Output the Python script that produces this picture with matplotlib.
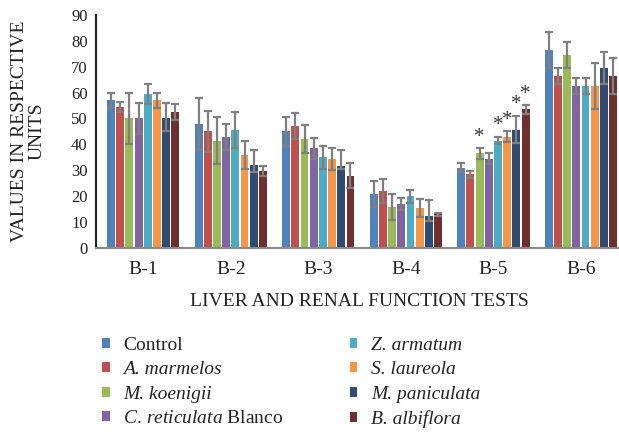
import matplotlib
matplotlib.use("Agg")
import matplotlib.pyplot as plt
import numpy as np

plt.rcParams["font.family"] = ["Liberation Serif", "DejaVu Serif"]
plt.rcParams["mathtext.fontset"] = "custom"
plt.rcParams["mathtext.rm"] = "Liberation Serif"
plt.rcParams["mathtext.it"] = "Liberation Serif:italic"

tests = ["B-1", "B-2", "B-3", "B-4", "B-5", "B-6"]

labels = [
    "Control",
    "A. marmelos",
    "M. koenigii",
    r"$\it{C.\,reticulata}$ Blanco",
    "Z. armatum",
    "S. laureola",
    "M. paniculata",
    "B. albiflora",
]
italic_labels = [1, 2, 4, 5, 6, 7]
colors = ["#4F81BD", "#C0504D", "#9BBB59", "#8064A2",
          "#4BACC6", "#F79646", "#2F4B72", "#6E2F2E"]

control = [57, 48, 45, 21, 31, 76.5]
marmelos = [54.5, 45, 47, 22, 28.5, 66.5]
koenigii = [50, 41.5, 42, 16, 36.5, 74.5]
reticulata = [50, 43, 38.5, 17, 34.5, 62.5]
armatum = [59.5, 45.5, 35, 20, 41.5, 62.5]
laureola = [57, 36, 34.5, 15.5, 43, 62.5]
paniculata = [50, 32, 31.8, 12.5, 45.5, 69.5]
albiflora = [52.5, 29.7, 28, 13, 53.5, 66.5]

err_control = [3, 10, 5.5, 5, 1.7, 7]
err_marmelos = [2, 8, 5, 4.5, 1.4, 3]
err_koenigii = [10, 9, 5.5, 5, 2, 5]
err_reticulata = [6, 5, 4, 2.2, 2, 3]
err_armatum = [4, 7, 4.5, 2.5, 1.5, 3]
err_laureola = [3, 5.5, 4.3, 3.5, 2, 9]
err_paniculata = [5.8, 6, 6, 6, 5.6, 6]
err_paniculata_low = [5, 2.5, 1.3, 2, 4.8, 6]
err_albiflora = [3, 2, 4.7, 0.5, 1.7, 7]

# significance marks on B-5
stars = {2: "*", 4: "*", 5: "*", 6: "*", 7: "*"}
star_group = 4

series = [control, marmelos, koenigii, reticulata, armatum, laureola, paniculata, albiflora]
errs_hi = [err_control, err_marmelos, err_koenigii, err_reticulata,
           err_armatum, err_laureola, err_paniculata, err_albiflora]
errs_lo = list(errs_hi)
errs_lo[6] = err_paniculata_low

fig = plt.figure(figsize=(6.19, 4.36), dpi=100)
ax = fig.add_axes([0.155, 0.431, 0.85, 0.535])

x = np.arange(len(tests))
slot = 0.105
width = 0.09
for i, (vals, lo, hi) in enumerate(zip(series, errs_lo, errs_hi)):
    pos = x + (i - 3.5) * slot
    ax.bar(pos, vals, width=width, color=colors[i], label=labels[i], zorder=2)
    ax.errorbar(pos, vals, yerr=[lo, hi], fmt="none", ecolor="#7f7f7f",
                elinewidth=1.6, capsize=3, capthick=1.6, zorder=3)
    if i in stars:
        ax.annotate(stars[i], (pos[star_group], vals[star_group] + hi[star_group]),
                    xytext=(0, 1), textcoords="offset points",
                    ha="center", va="bottom", fontsize=15, color="#333333")

ax.set_xlim(-0.54, 5.47)
ax.set_ylim(0, 90)
ax.set_yticks(range(0, 91, 10))
ax.set_xticks(x)
ax.set_xticklabels(tests, fontsize=14, color="#222222")
ax.tick_params(axis="y", length=0, labelsize=12, pad=6, labelcolor="#222222")
ax.tick_params(axis="x", length=0, pad=9)
for side in ["top", "right"]:
    ax.spines[side].set_visible(False)
ax.spines["left"].set_color("#222222")
ax.spines["left"].set_linewidth(1.5)
ax.spines["bottom"].set_color("#888888")
ax.spines["bottom"].set_linewidth(1.5)

ax.set_xlabel("LIVER AND RENAL FUNCTION TESTS", fontsize=14, color="#222222", labelpad=11)
ax.set_ylabel("VALUES IN RESPECTIVE\nUNITS", fontsize=14, color="#222222",
              linespacing=1.05, labelpad=18)

leg = fig.legend(loc="upper left", bbox_to_anchor=(0.152, 0.245), ncol=2,
                 frameon=False, fontsize=14, handlelength=0.4, handleheight=0.4,
                 handletextpad=0.7, columnspacing=3.4, labelspacing=0.38,
                 borderaxespad=0, labelcolor="#222222")
for k in italic_labels:
    leg.get_texts()[k].set_fontstyle("italic")

fig.savefig("out.png", dpi=100)
